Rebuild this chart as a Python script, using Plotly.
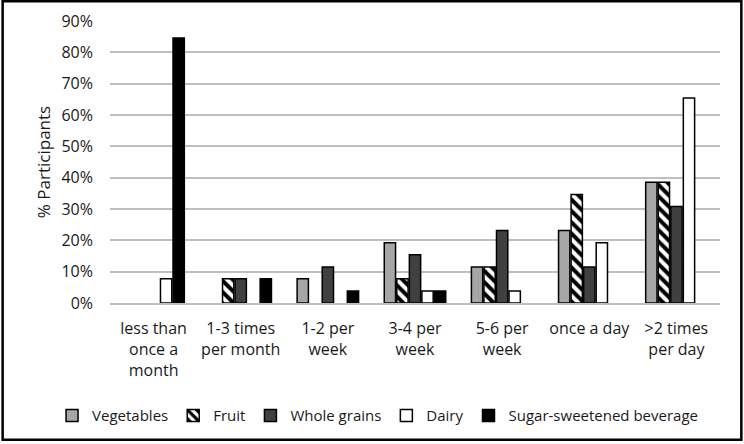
import plotly.graph_objects as go

categories = ["less than<br>once a<br>month", "1-3 times<br>per month", "1-2 per<br>week",
              "3-4 per<br>week", "5-6 per<br>week", "once a day", ">2 times<br>per day"]
vegetables = [0, 0, 7.7, 19.2, 11.5, 23.1, 38.5]
fruit = [0, 7.7, 0, 7.7, 11.5, 34.6, 38.5]
whole_grains = [0, 7.7, 11.5, 15.4, 23.1, 11.5, 30.8]
dairy = [7.7, 0, 0, 3.8, 3.8, 19.2, 65.4]
ssb = [84.6, 7.7, 3.8, 3.8, 0, 0, 0]

series = [
    ("Vegetables", vegetables, dict(color="#a6a6a6")),
    ("Fruit", fruit, dict(color="white", pattern=dict(shape="\\", fgcolor="black", bgcolor="white",
                                                       size=8, solidity=0.5, fillmode="replace"))),
    ("Whole grains", whole_grains, dict(color="#404040")),
    ("Dairy", dairy, dict(color="white")),
    ("Sugar-sweetened beverage", ssb, dict(color="black")),
]

fig = go.Figure()
for name, vals, mk in series:
    mk = dict(mk)
    mk["line"] = dict(color="black", width=1.5)
    # zero values are drawn as no bar at all (no outline at the baseline)
    fig.add_trace(go.Bar(name=name, x=categories,
                         y=[v / 100 if v else None for v in vals], marker=mk))

font = "Open Sans"
fig.update_layout(
    width=744, height=444,
    margin=dict(l=110, r=24, t=21, b=141, autoexpand=False),
    paper_bgcolor="white", plot_bgcolor="white",
    barmode="group", bargap=0.28, bargroupgap=0.1,
    font=dict(family=font, size=16, color="#1a1a1a"),
    showlegend=True,
    legend=dict(orientation="h", x=-0.095, xanchor="left", y=-0.4, yanchor="middle",
                font=dict(size=15), traceorder="normal", itemwidth=30,
                bgcolor="rgba(0,0,0,0)"),
    yaxis=dict(range=[0, 0.9], dtick=0.1, tickformat=".0%", showgrid=True,
               gridcolor="#bfbfbf", gridwidth=1.5, zeroline=False, showline=False,
               ticks="", ticklen=0, ticklabelstandoff=16,
               title=dict(text="% Participants", font=dict(size=17), standoff=6),
               tickfont=dict(size=16)),
    xaxis=dict(showline=True, linecolor="#bfbfbf", linewidth=1.5, ticks="",
               ticklabelstandoff=10, tickfont=dict(size=16)),
    shapes=[dict(type="rect", xref="paper", yref="paper",
                 x0=-0.176, x1=1.035, y0=-0.485, y1=1.07,
                 line=dict(color="black", width=2.5))],
)

fig.write_html("out.html", config={"displayModeBar": False},
               post_script="document.body.style.margin='0';document.body.style.overflow='hidden';")
